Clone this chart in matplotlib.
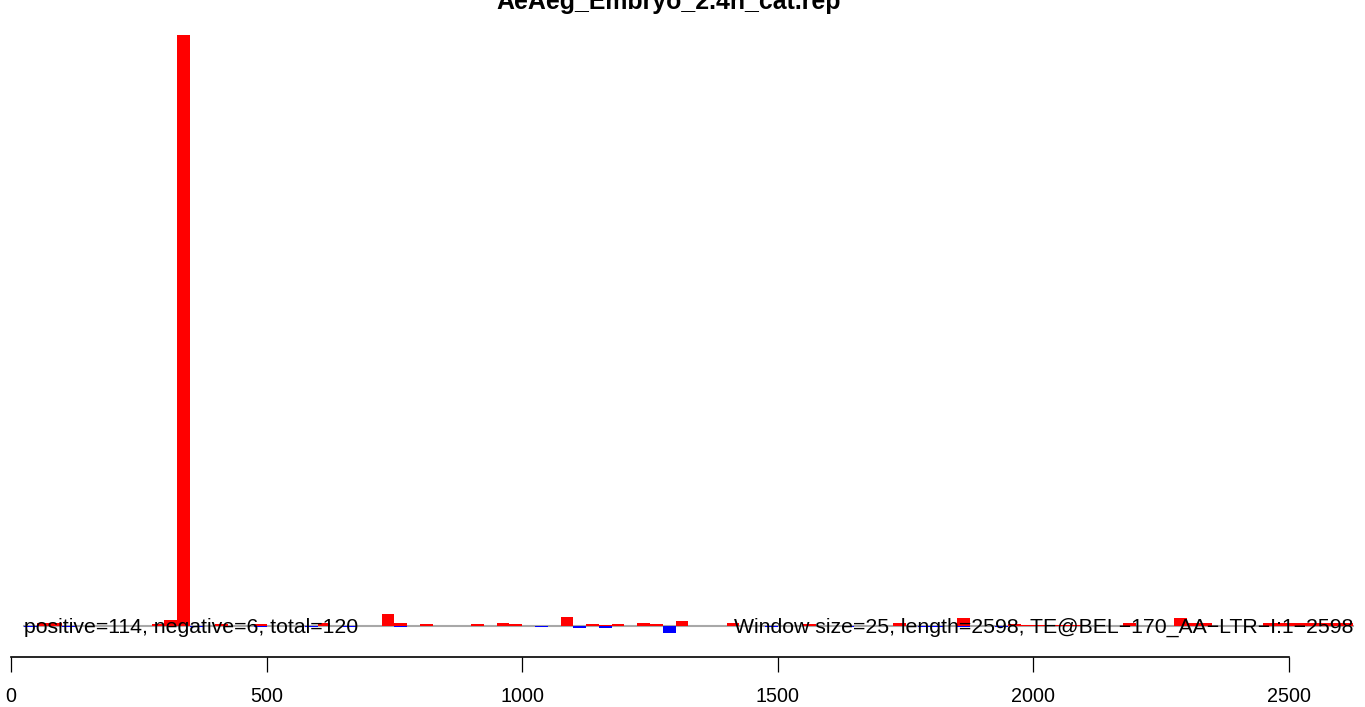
import numpy as np
import matplotlib.pyplot as plt

plt.rcParams['font.family'] = ['Liberation Sans', 'DejaVu Sans']

title = "AeAeg_Embryo_2.4h_cat.rep"
left_note = "positive=114, negative=6, total=120"
right_note = "Window size=25, length=2598, TE@BEL\u2212170_AA\u2212LTR\u2212I:1\u22122598"
win = 25
length = 2598

# window start positions and read counts (sense strand, red)
pos_start = [50, 75, 275, 300, 325, 400, 475, 600, 725, 750, 800, 900, 950, 975,
             1075, 1125, 1150, 1175, 1225, 1250, 1300, 1400, 1550, 1725, 1850,
             1950, 1975, 2000, 2025, 2050, 2075, 2175, 2275, 2300, 2325,
             2450, 2475, 2500, 2525, 2550, 2575, 2600]
pos_val = [0.35, 0.35, 0.17, 0.85, 100, 0.2, 0.2, 0.35, 1.9, 0.42, 0.17, 0.17, 0.42, 0.17,
           1.45, 0.3, 0.12, 0.3, 0.42, 0.3, 0.75, 0.42, 0.17, 0.5, 1.2,
           0.25, 0.12, 0.12, 0.12, 0.12, 0.12, 0.4, 1.35, 0.4, 0.4,
           0.4, 0.4, 0.4, 0.5, 0.5, 0.5, 0.5]

# antisense strand (blue, drawn below zero)
neg_start = [25, 100, 350, 475, 575, 650, 750, 875, 925, 1025, 1100, 1150, 1200, 1275,
             1475, 1625, 1775, 1800, 1850, 1925, 2100, 2250, 2375, 2475, 2500]
neg_val = [0.17, 0.17, 0.25, 0.17, 0.17, 0.17, 0.25, 0.12, 0.12, 0.17, 0.42, 0.42, 0.12, 1.27,
           0.25, 0.17, 0.25, 0.25, 0.25, 0.25, 0.12, 0.12, 0.12, 0.12, 0.12]

xticks = [0, 500, 1000, 1500, 2000, 2500]

W, H = 1365, 707
fig = plt.figure(figsize=(W / 100, H / 100), dpi=100)
ax = fig.add_axes([0, 0, 1, 1])
ax.patch.set_alpha(0)

# pixel layout: x=0 at 11px, x=2500 at 1289px; y=0 at 625.5px, y=100 at 35px
sx = (1289 - 11) / 2500
sy = (625.5 - 35) / 100
ax.set_xlim(-11 / sx, (W - 11) / sx)
ax.set_ylim(-(H - 625.5) / sy, 625.5 / sy)

grid_end = int(np.ceil(length / win)) * win + win
ax.plot([win, grid_end], [0, 0], color='#A8A8A8', lw=1.5, zorder=1)

ax.bar(pos_start, pos_val, width=win, align='edge', color='#FF0000', lw=0, zorder=2)
ax.bar(neg_start, -np.array(neg_val), width=win, align='edge', color='#0000FF', lw=0, zorder=2)

ax.text(win, 0, left_note, ha='left', va='center_baseline', fontsize=15.3, zorder=3)
ax.text(grid_end, 0, right_note, ha='right', va='center_baseline', fontsize=15.3, zorder=3)

for s in ['left', 'right', 'top']:
    ax.spines[s].set_visible(False)
ax.spines['bottom'].set_position(('data', -(657 - 625.5) / sy))
ax.spines['bottom'].set_bounds(0, 2500)
ax.spines['bottom'].set_linewidth(1.2)
ax.set_xticks(xticks)
ax.set_xticklabels([str(t) for t in xticks])
ax.tick_params(axis='x', direction='out', length=10.8, width=0.9, pad=11, labelsize=14.2)
ax.set_yticks([])

fig.text(669 / W, 1 - 9 / H, title, ha='center', va='baseline', fontsize=17.9, fontweight='bold')

fig.savefig('out.png', dpi=100)
